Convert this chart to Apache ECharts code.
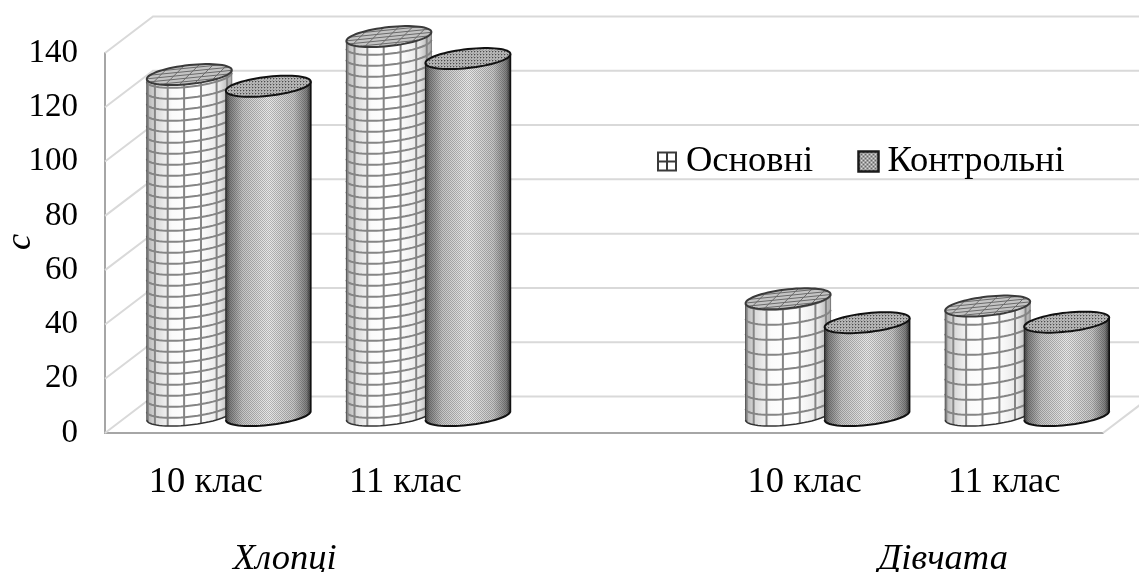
<!DOCTYPE html>
<html><head><meta charset="utf-8">
<style>html,body{margin:0;padding:0;background:#fff}#c{width:1139px;height:572px}</style>
<script src="https://cdn.jsdelivr.net/npm/echarts@6/dist/echarts.min.js"></script>
</head><body><div id="c"></div>
<script>
const categories = ['10 клас','11 клас','','10 клас','11 клас'];
const mainValues = [125.6, 139.6, null, 43, 40.3];
const controlValues = [121.3, 131.5, null, 34.2, 34.4];
const yTicks = [0,20,40,60,80,100,120,140];
const groupLabels = ['Хлопці','Дівчата'];
const seriesNames = ['Основні','Контрольні'];
const yName = 'с';

const FONT = '"Liberation Serif","Times New Roman",serif';
const FS = 36.5;
const WALL_DX = 48, WALL_DY = 36.5;
const A = 42.5, TILT = 4.5, B = 9.5;
const BASE_DX = 24, BASE_DY = 17.5;

function tile(fn, n){
  const c = document.createElement('canvas'); c.width = c.height = n;
  const g = c.getContext('2d'); const im = g.createImageData(n,n);
  for(let y=0;y<n;y++)for(let x=0;x<n;x++){
    const a = fn(x,y); const i=(y*n+x)*4;
    im.data[i]=im.data[i+1]=im.data[i+2]=20; im.data[i+3]=a;
  }
  g.putImageData(im,0,0); return c;
}
const bodyTile = tile((x,y)=>((x+y)%2===0?62:0),2);
const topTile = tile((x,y)=>((x%3===0&&y%3===0)?170:((x+y)%3===1?50:0)),3);
const legendTile = tile((x,y)=>((((x>>1)+(y>>1))%2===0)?165:40),4);
const bodyPattern = {image:bodyTile,repeat:'repeat'};
const topPattern = {image:topTile,repeat:'repeat'};

const mainShade = new echarts.graphic.LinearGradient(0,0,1,0,[
 {offset:0,color:'#b0b0b0'},{offset:.1,color:'#d8d8d8'},{offset:.3,color:'#fbfbfb'},
 {offset:.6,color:'#ffffff'},{offset:.85,color:'#e8e8e8'},{offset:1,color:'#a8a8a8'}]);
const ctrlShade = new echarts.graphic.LinearGradient(0,0,1,0,[
 {offset:0,color:'#444'},{offset:.05,color:'#808080'},{offset:.2,color:'#c4c4c4'},
 {offset:.5,color:'#e8e8e8'},{offset:.8,color:'#c4c4c4'},{offset:.95,color:'#808080'},{offset:1,color:'#333'}]);

function pt(cx,cy,t){return [cx+A*Math.cos(t), cy-TILT*Math.cos(t)+B*Math.sin(t)];}
function arc(cx,cy,t0,t1,n){const r=[];for(let i=0;i<=n;i++)r.push(pt(cx,cy,t0+(t1-t0)*i/n));return r;}

function chords(cx,cy,dir,offsets){
  const u0 = dir[0]/A, v0 = (dir[1]+TILT*u0)/B;
  const l = Math.hypot(u0,v0), du=u0/l, dv=v0/l, nu=-dv, nv=du;
  return offsets.map(o=>{
    const h=Math.sqrt(1-o*o);
    const map=(u,v)=>[cx+A*u, cy-TILT*u+B*v];
    return [map(o*nu-h*du,o*nv-h*dv), map(o*nu+h*du,o*nv+h*dv)];
  });
}

function cylinder(api, isMain){
  const idx = api.value(0), val = api.value(1);
  if (val==null || isNaN(val)) return;
  const band = api.size([1,0])[0];
  const off = band*0.198*(isMain?-1:1);
  const top = api.coord([idx,val]), bot = api.coord([idx,0]);
  const cx = top[0]+BASE_DX+off, yT = top[1]-BASE_DY, yB = bot[1]-BASE_DY;
  const kids = [];
  const body = arc(cx,yT,Math.PI,2*Math.PI,32).concat(arc(cx,yB,0,Math.PI,32));
  kids.push({type:'polygon',shape:{points:body},style:{fill:isMain?mainShade:ctrlShade,stroke:null}});
  if(!isMain) kids.push({type:'polygon',shape:{points:body},style:{fill:bodyPattern,stroke:null}});
  if(isMain){
    const gray='#858585';
    const h = yB-yT, gap = h>200?11:15;
    for(let y=yB-gap*0.75;y>yT;y-=gap){
      kids.push({type:'polyline',shape:{points:arc(cx,y,0,Math.PI,32)},style:{fill:null,stroke:gray,lineWidth:2}});
    }
    [-77,-54,-30.5,-7,16,40,63].forEach(d=>{
      const p=d*Math.PI/180, t=Math.PI/2-p;
      kids.push({type:'line',shape:{x1:pt(cx,yT,t)[0],y1:pt(cx,yT,t)[1],x2:pt(cx,yB,t)[0],y2:pt(cx,yB,t)[1]},style:{stroke:gray,lineWidth:2}});
    });
  }
  const edge = isMain?'#555':'#222';
  kids.push({type:'line',shape:{x1:cx-A,y1:yT+TILT,x2:cx-A,y2:yB+TILT},style:{stroke:edge,lineWidth:1}});
  kids.push({type:'line',shape:{x1:cx+A,y1:yT-TILT,x2:cx+A,y2:yB-TILT},style:{stroke:isMain?'#777':'#111',lineWidth:isMain?1:1.6}});
  kids.push({type:'polyline',shape:{points:arc(cx,yB,0,Math.PI,32)},style:{fill:null,stroke:isMain?'#333':'#111',lineWidth:isMain?1.5:2}});
  const lid = arc(cx,yT,0,2*Math.PI,64);
  kids.push({type:'polygon',shape:{points:lid},style:{fill:isMain?'#c4c4c4':'#b8b8b8',stroke:null}});
  if(isMain){
    chords(cx,yT,[1,-1],[-.72,-.36,0,.36,.72]).concat(chords(cx,yT,[1,-.1],[-.7,-.35,0,.35,.7])).forEach(c=>{
      kids.push({type:'line',shape:{x1:c[0][0],y1:c[0][1],x2:c[1][0],y2:c[1][1]},style:{stroke:'#6a6a6a',lineWidth:1}});
    });
  } else {
    kids.push({type:'polygon',shape:{points:lid},style:{fill:topPattern,stroke:null}});
  }
  kids.push({type:'polygon',shape:{points:lid},style:{fill:null,stroke:isMain?'#3a3a3a':'#111',lineWidth:2}});
  return {type:'group',children:kids};
}

const chart = echarts.init(document.getElementById('c'),null,{renderer:'canvas'});
const rows = a => a.map((v,i)=>[i,v]);
const gridIcon = 'path://M0 0H20V20H0Z M2 2V9H9V2Z M11 2V9H18V2Z M2 11V18H9V11Z M11 11V18H18V11Z';
chart.setOption({
  animation:false,
  backgroundColor:'#fff',
  grid:{left:105,right:36,top:53,bottom:139,containLabel:false,outerBoundsMode:'none'},
  legend:{
    left:657,top:143,padding:0,itemWidth:20,itemHeight:20,itemGap:44,
    textStyle:{fontFamily:FONT,fontSize:FS,color:'#000',padding:[0,0,0,4]},
    data:[
      {name:seriesNames[0],icon:gridIcon,itemStyle:{color:'#3a3a3a',borderWidth:0}},
      {name:seriesNames[1],icon:'rect',itemStyle:{color:{image:legendTile,repeat:'repeat'},borderColor:'#1a1a1a',borderWidth:2.5}}
    ]
  },
  xAxis:{type:'category',data:categories,
    axisLine:{show:true,lineStyle:{color:'#a6a6a6',width:2}},axisTick:{show:false},
    axisLabel:{interval:0,margin:31,padding:[0,0,0,2],fontFamily:FONT,fontSize:FS,color:'#000'},splitLine:{show:false}},
  yAxis:{type:'value',min:0,max:140,interval:20,
    name:yName,nameLocation:'middle',nameRotate:90,nameGap:66,nameMoveOverlap:false,
    nameTextStyle:{fontFamily:FONT,fontSize:FS,fontStyle:'italic',color:'#000',padding:[0,0,0,2]},
    axisLine:{show:true,lineStyle:{color:'#a6a6a6',width:2}},axisTick:{show:false},
    axisLabel:{margin:27,fontFamily:FONT,fontSize:33,color:'#000'},splitLine:{show:false}},
  graphic:[
    {type:'text',left:233,top:541,style:{text:groupLabels[0],font:'italic 36.5px '+FONT,fill:'#000'}},
    {type:'text',left:878,top:541,style:{text:groupLabels[1],font:'italic 36.5px '+FONT,fill:'#000'}}
  ],
  series:[
    {type:'custom',name:'wall',silent:true,z:1,coordinateSystem:'cartesian2d',encode:{y:0},data:yTicks.map(v=>[v]),
     renderItem:(p,api)=>{const v=api.value(0);const pos=api.coord([0,v]);
       const cs=p.coordSys;const x0=cs.x,xR=cs.x+cs.width,y=pos[1];
       const kids=[{type:'polyline',shape:{points:[[x0,y],[x0+WALL_DX,y-WALL_DY],[1145,y-WALL_DY]]},style:{fill:null,stroke:'#d9d9d9',lineWidth:2}}];
       if(v===0)kids.push({type:'line',shape:{x1:xR,y1:y,x2:xR+WALL_DX,y2:y-WALL_DY},style:{stroke:'#d9d9d9',lineWidth:2}});
       return {type:'group',children:kids};}},
    {type:'custom',name:seriesNames[0],z:3,coordinateSystem:'cartesian2d',encode:{x:0,y:1},data:rows(mainValues),
     renderItem:(p,api)=>cylinder(api,true)},
    {type:'custom',name:seriesNames[1],z:4,coordinateSystem:'cartesian2d',encode:{x:0,y:1},data:rows(controlValues),
     renderItem:(p,api)=>cylinder(api,false)}
  ]
});
</script></body></html>
